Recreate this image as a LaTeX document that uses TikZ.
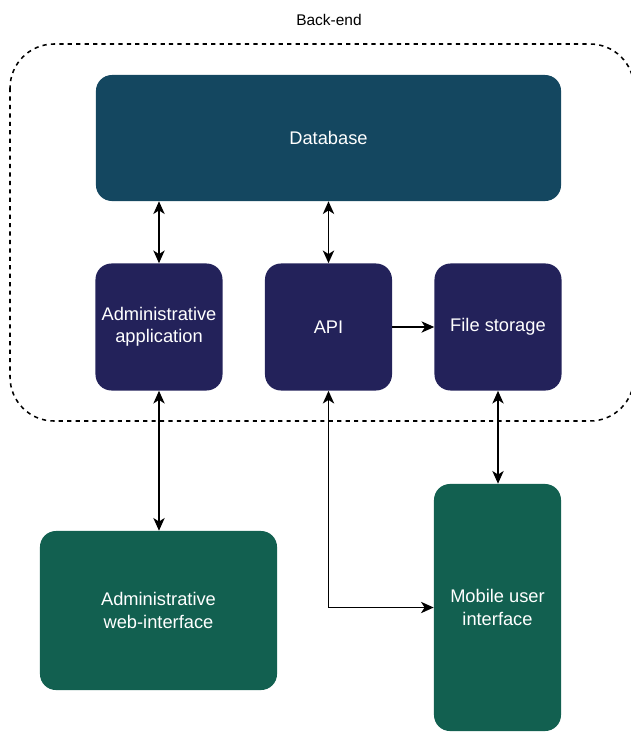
\documentclass[tikz,border=0pt]{standalone}
\usepackage{fontspec}
\setmainfont{Liberation Sans}
\usetikzlibrary{arrows.meta}
\definecolor{dbblue}{RGB}{20,71,96}
\definecolor{appnavy}{RGB}{35,34,90}
\definecolor{uigreen}{RGB}{18,96,80}

\begin{document}
\begin{tikzpicture}[> = {Stealth[length = 9pt, width = 8pt, inset = 2.5pt]}, x = 0.025cm, y = -0.025cm,
	block/.style = {draw = none, rounded corners = 0.4cm, text = white, font = \fontsize{13}{16}\selectfont, align = center, inner sep = 0pt},
	link/.style = {<->, line width = 1.3pt}]

	\useasboundingbox (0, 0) rectangle (631, 732);

	% Back-end container

	\draw [dash pattern = on 3pt off 3pt, line width = 1.1pt, rounded corners = 1.1cm] (10, 44) rectangle (634, 421);
	\node (backend) at (329, 20) {\fontsize{11}{13}\selectfont Back-end};

	% Blocks

	\node [block, fill = dbblue, minimum width = 11.625cm, minimum height = 3.15cm] (db) at (328.5, 138) {Database};
	\node [block, fill = appnavy, minimum width = 3.175cm, minimum height = 3.175cm] (admin) at (159, 327) {Administrative\\application};
	\node [block, fill = appnavy, minimum width = 3.175cm, minimum height = 3.175cm] (api) at (328.5, 327) {API};
	\node [block, fill = appnavy, minimum width = 3.175cm, minimum height = 3.175cm] (files) at (498, 327) {File storage};
	\node [block, fill = uigreen, minimum width = 5.925cm, minimum height = 3.975cm] (web) at (158.5, 610.5) {Administrative\\web-interface};
	\node [block, fill = uigreen, minimum width = 3.175cm, minimum height = 6.175cm] (mobile) at (497.5, 607.5) {Mobile user\\interface};

	% Connections

	\draw [link] (admin.north) -- (admin.north |- db.south);
	\draw [link] (api.north) -- (api.north |- db.south);
	\draw [->, line width = 1.3pt] (api) -- (files);
	\draw [link] (admin.south) -- (admin.south |- web.north);
	\draw [link] (files.south) -- (files.south |- mobile.north);
	\draw [link] (api.south) |- (mobile.west);

\end{tikzpicture}
\end{document}
